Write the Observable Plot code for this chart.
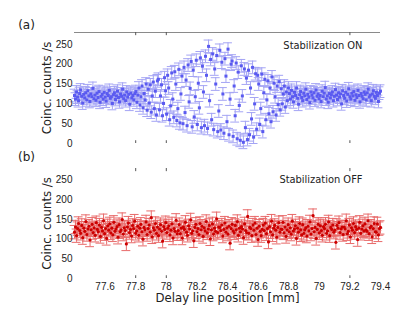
<!DOCTYPE html>
<html><head><meta charset="utf-8">
<script src="https://cdn.jsdelivr.net/npm/d3@7"></script>
<script src="https://cdn.jsdelivr.net/npm/@observablehq/plot@0.6"></script>
<style>
body{margin:0;background:#fff;}
#wrap{position:relative;width:415px;height:321px;overflow:hidden;background:#fff;}
#wrap > div{position:absolute;left:0;}
</style></head><body>
<div id="wrap"><div id="pa" style="top:0px"></div><div id="pb" style="top:150px"></div></div>
<script>
// ---- data ----
const xStart = 77.4, xEnd = 79.4;
const xTicks = [77.6, 77.8, 78, 78.2, 78.4, 78.6, 78.8, 79, 79.2, 79.4];
const yTicks = [0, 50, 100, 150, 200, 250];
const markTicks = [77.8, 78, 79.2];
const panelLabels = ["(a)", "(b)"];
const panelTitles = ["Stabilization ON", "Stabilization OFF"];
const xTitle = "Delay line position [mm]";
const yTitle = "Coinc. counts /s";
const errOn = 16, errOff = 17;

// Panel (a): stabilization ON, read left to right
const countsOn = [
121,112,130,117,108,126,135,119,102,124,115,128,110,133,120,106,125,118,139,113,
122,109,127,116,131,104,119,124,112,129,117,107,126,121,134,114,118,101,123,128,
111,120,132,116,105,125,119,137,113,122,108,130,117,124,99,127,115,121,110,126,
131,104,122,140,97,118,145,90,126,110,150,84,137,102,148,79,120,155,88,132,72,158,
162,85,120,148,70,101,166,133, 74,172,140,60,95,178,112,66,
181,150,58,88,187,52,125,170, 50,192,78,160,45,198,105,139,
207,42,185,67,118,210,48,152, 90,216,40,195,130,45,220,172,
38,245,108,212,60,226,35,188, 150,222,30,82,235,34,205,125,
26,214,170,55,238,22,112,200, 208,18,145,70,203,12,180,96,
8,196,120,3,188,40,165,10, 185,22,140,62,192,16,100,176,
36,172,150,48,88,175,30,128, 162,60,110,158,75,140,55,168,
80,152,118,72,145,98,156,85, 138,100,125,145,92,130,108,140,
126,112,134,118,105,129,121,140,114,99,123,131,116,108,127,120,137,111,124,117,
103,130,122,115,128,109,135,119,125,113,121,106,132,118,127,141,112,120,104,126,
115,123,130,108,119,136,122,111,128,117,125,100,133,121,114,129,107,124,138,118,
112,127,120,131,109,123,116,134,121,105,126,119,113,130,124,110,128,137,117,122,
108,125,133,119,114,129,121,106,127,132
];

// Panel (b): stabilization OFF, read left to right
const countsOff = [
118,131,109,127,140,122,115,135,104,128,120,145,112,126,133,98,124,138,117,129,
110,142,125,119,136,107,130,121,147,114,127,102,134,123,139,116,128,111,143,120,
126,132,105,137,119,124,150,113,129,122,88,131,141,117,125,108,135,127,146,115,
121,133,110,128,138,119,100,130,124,144,112,127,136,118,155,106,129,123,140,115,
131,109,126,137,120,95,132,125,142,117,128,134,111,123,139,103,127,120,148,114,
122,137,114,128,103,131,125,143,118,110,134,126,149,115,121,96,130,138,119,127,
112,140,124,133,107,129,121,145,116,126,135,101,124,139,113,128,120,152,117,131,
130,122,136,108,125,141,118,129,113,133,90,127,138,121,116,135,124,145,110,128,
119,132,126,104,139,122,117,158,115,130,127,109,136,123,141,112,128,99,133,120,
109,125,136,122,141,114,127,93,132,119,146,111,128,135,123,105,130,142,118,126,
125,143,116,131,107,124,137,119,129,113,146,121,126,134,102,128,118,140,124,111,
137,115,124,129,108,133,121,144,113,127,160,119,130,102,125,138,116,134,122,110,
132,127,138,115,121,144,109,130,125,136,118,123,92,135,128,142,117,126,131,112,
131,126,147,114,120,136,106,129,123,140,117,132,125,99,128,143,115,126,134,121,
139,124,120,147,114,129,133,106,127,140,119,118,139,111,127,130
];

function rows(vals){
  const n = vals.length;
  return vals.map((v,i)=>({x: xStart + i*(xEnd-xStart)/(n-1), y: v}));
}

const FONT = "DejaVu Sans, sans-serif";
const TICKFONT = "Liberation Sans, Arial, sans-serif";

function panel({data, err, ptColor, barColor, symbol, r, height, mt, mb, label, title, labelDy, showX, topLine}){
  const capHalf = 0.029;
  const marks = [];
  if (topLine) marks.push(Plot.ruleY([280], {stroke:"#8a8a8a", strokeWidth:1.2}));
  marks.push(
    Plot.ruleX(markTicks, {y1:280, y2:272, stroke:"#555"}),
    Plot.ruleX(markTicks, {y1:0, y2:7, stroke:"#555"}),
    Plot.ruleX(data, {x:"x", y1:d=>d.y-err, y2:d=>d.y+err, stroke:barColor, strokeWidth:1}),
    Plot.ruleY(data, {y:d=>d.y+err, x1:d=>d.x-capHalf, x2:d=>d.x+capHalf, stroke:barColor, strokeWidth:1}),
    Plot.ruleY(data, {y:d=>d.y-err, x1:d=>d.x-capHalf, x2:d=>d.x+capHalf, stroke:barColor, strokeWidth:1}),
    Plot.dot(data, {x:"x", y:"y", symbol, r, fill:ptColor, stroke:"none"}),
    Plot.axisY(yTicks, {tickSize:0, tickPadding:2, label:null, fontFamily:TICKFONT, fontSize:10, fill:"#222"}),
    Plot.text([yTitle], {frameAnchor:"left", dx:-27, rotate:-90, textAnchor:"middle", lineAnchor:"middle", fontFamily:FONT, fontSize:11.7, fill:"#222"}),
    Plot.text([title], {frameAnchor:"top-right", dx:-18, dy:labelDy, textAnchor:"end", lineAnchor:"middle", fontFamily:FONT, fontSize:9.9, fill:"#222"}),
    Plot.text([label], {frameAnchor:"top-left", dx:-48, dy: topLine ? -7 : -11, textAnchor:"middle", lineAnchor:"middle", fontFamily:FONT, fontSize:12, fill:"#222"})
  );
  if (showX) {
    marks.push(
      Plot.axisX(xTicks, {tickSize:0, tickPadding:4, label:null, tickFormat:d=>String(+d.toFixed(1)), fontFamily:TICKFONT, fontSize:10, fill:"#222"}),
      Plot.text([xTitle], {frameAnchor:"bottom", dy:20, textAnchor:"middle", lineAnchor:"middle", fontFamily:FONT, fontSize:11.7, fill:"#222"})
    );
  }
  return Plot.plot({
    width:415, height, marginLeft:74, marginRight:35, marginTop:mt, marginBottom:mb,
    x:{domain:[xStart,xEnd], axis:null},
    y:{domain:[0,280], axis:null},
    style:{background:"#fff", overflow:"visible"},
    marks
  });
}

document.getElementById("pa").appendChild(panel({
  data: rows(countsOn), err: errOn, ptColor:"#5a5af0", barColor:"#a4a4f4",
  symbol:"square", r:1.7, height:150, mt:32, mb:7, label:panelLabels[0], title:panelTitles[0], labelDy:13, showX:false, topLine:true
}));
document.getElementById("pb").appendChild(panel({
  data: rows(countsOff), err: errOff, ptColor:"#cc0000", barColor:"#e86a6a",
  symbol:"circle", r:1.6, height:171, mt:18, mb:43, label:panelLabels[1], title:panelTitles[1], labelDy:11, showX:true, topLine:false
}));
</script>
</body></html>
